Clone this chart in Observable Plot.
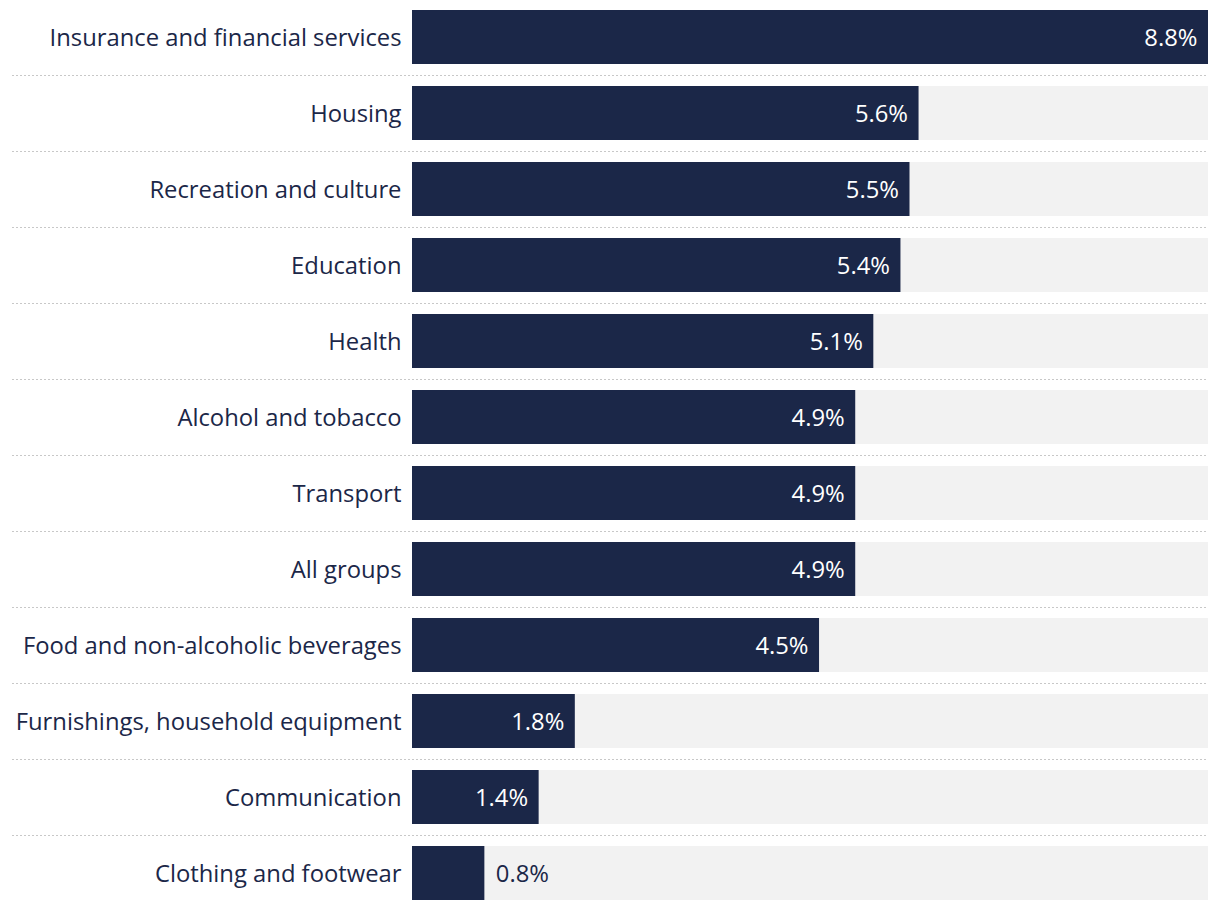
<!DOCTYPE html>
<html>
<head>
<meta charset="utf-8">
<script src="https://cdn.jsdelivr.net/npm/d3@7"></script>
<script src="https://cdn.jsdelivr.net/npm/@observablehq/plot@0.6"></script>
<style>
  html, body { margin: 0; padding: 0; background: #ffffff; }
  #chart svg { display: block; }
</style>
</head>
<body>
<div id="chart"></div>
<script>
const categories = [
  "Insurance and financial services",
  "Housing",
  "Recreation and culture",
  "Education",
  "Health",
  "Alcohol and tobacco",
  "Transport",
  "All groups",
  "Food and non-alcoholic beverages",
  "Furnishings, household equipment",
  "Communication",
  "Clothing and footwear"
];
const values = [8.8, 5.6, 5.5, 5.4, 5.1, 4.9, 4.9, 4.9, 4.5, 1.8, 1.4, 0.8];
const maxValue = 8.8;

const data = categories.map((c, i) => ({category: c, value: values[i]}));
const navy = "#1b2748";
const font = "'Open Sans', sans-serif";

const chart = Plot.plot({
  width: 1220,
  height: 910,
  marginLeft: 12,
  marginRight: 12,
  marginTop: 0,
  marginBottom: 0,
  style: {fontFamily: font, fontSize: "24px", color: navy, background: "#ffffff"},
  x: {domain: [0, maxValue], range: [412, 1208], axis: null},
  y: {domain: categories, range: [-1, 911], paddingInner: 22 / 76, paddingOuter: 11 / 76, axis: null},
  marks: [
    Plot.ruleY(categories.slice(0, -1), {y: d => d, dy: 38, stroke: "#c8c8c8", strokeWidth: 1, strokeDasharray: "2,2"}),
    Plot.barX(data, {y: "category", x1: () => 0, x2: () => maxValue, fill: "#f2f2f2"}),
    Plot.barX(data, {y: "category", x: "value", fill: navy}),
    Plot.text(data, {y: "category", x: () => 0, text: "category", textAnchor: "end", dx: -11, dy: 1, fill: navy, fontSize: 23.8}),
    Plot.text(data.filter(d => d.value >= 1), {y: "category", x: "value", text: d => d.value.toFixed(1) + "%", textAnchor: "end", dx: -11, dy: 1, fill: "#ffffff", fontSize: 23.8}),
    Plot.text(data.filter(d => d.value < 1), {y: "category", x: "value", text: d => d.value.toFixed(1) + "%", textAnchor: "start", dx: 11, dy: 1, fill: navy, fontSize: 23.8})
  ]
});
document.getElementById("chart").appendChild(chart);
</script>
</body>
</html>
